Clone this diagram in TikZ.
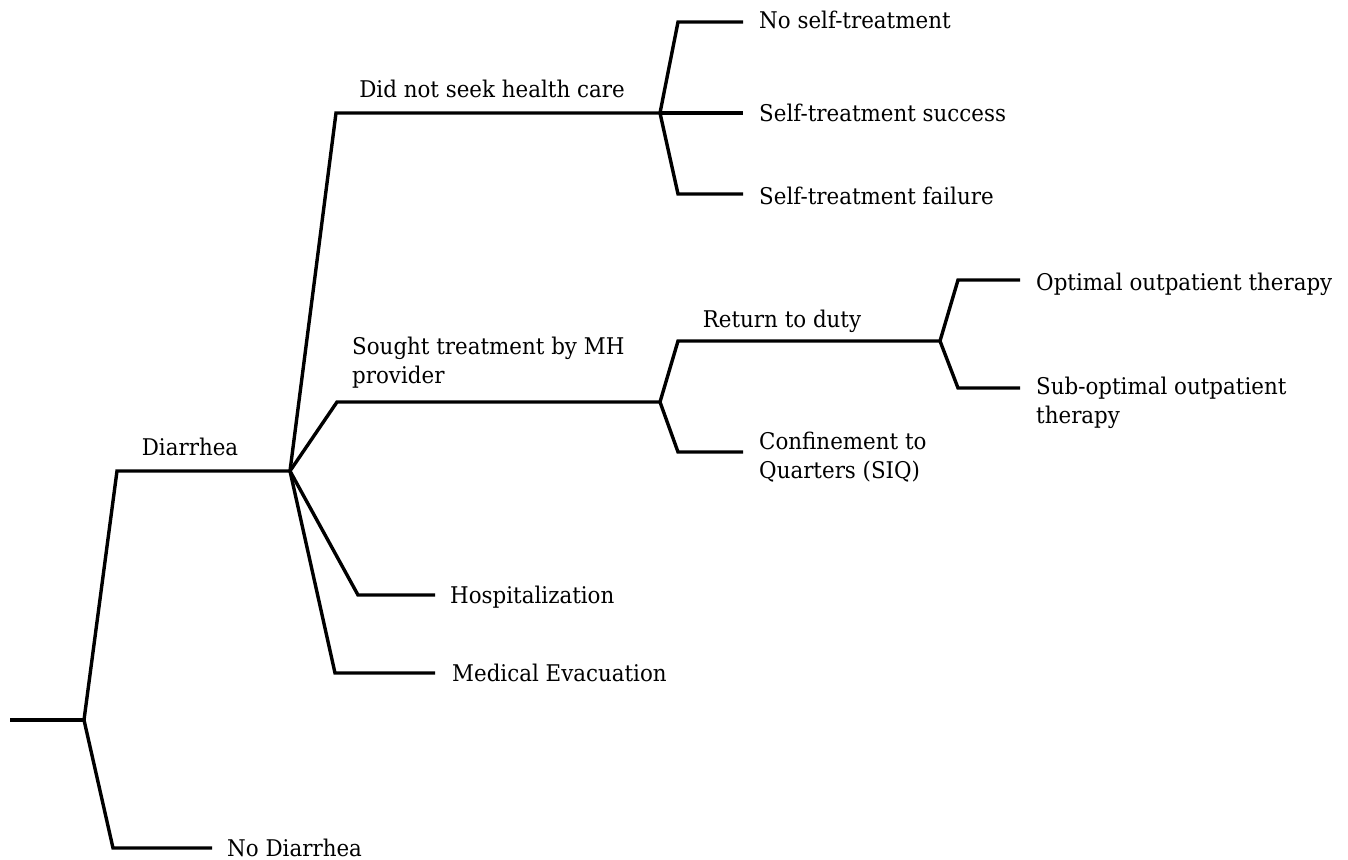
\documentclass[tikz,border=0pt]{standalone}
\usepackage{fontspec}
\setmainfont{DejaVu Serif}[FakeStretch=0.93]
\begin{document}
\begin{tikzpicture}[x=1pt,y=-1pt,
  branch/.style={line width=3.4pt},
  lbl/.style={inner sep=0pt, font=\fontsize{23}{29}\selectfont},
  leaf/.style={lbl, anchor=base west, align=left}]
\useasboundingbox[fill=white] (0,0) rectangle (1348,859);
% junctions and corners
\coordinate (r) at (10,720);
\coordinate (j0) at (84,720);
\coordinate (cD) at (117,471);
\coordinate (j1) at (290,471);
\coordinate (cND) at (113,848);
\coordinate (eND) at (212,848);
\coordinate (cN) at (336,113);
\coordinate (j2) at (660,113);
\coordinate (cS) at (337,402);
\coordinate (j3) at (660,402);
\coordinate (cH) at (358,595);
\coordinate (eH) at (435,595);
\coordinate (cM) at (335,673);
\coordinate (eM) at (435,673);
\coordinate (c1) at (678,22);
\coordinate (e1) at (743,22);
\coordinate (e2) at (743,113);
\coordinate (c3) at (678,194);
\coordinate (e3) at (743,194);
\coordinate (cR) at (678,341);
\coordinate (j4) at (940,341);
\coordinate (cC) at (678,452);
\coordinate (eC) at (743,452);
\coordinate (cO) at (958,280);
\coordinate (eO) at (1020,280);
\coordinate (cSO) at (958,388);
\coordinate (eSO) at (1020,388);
% connectors
\draw[branch] (r) -- (j0);
\draw[branch] (j0) -- (cD) -- (j1);
\draw[branch] (j0) -- (cND) -- (eND);
\draw[branch] (j1) -- (cN) -- (j2);
\draw[branch] (j1) -- (cS) -- (j3);
\draw[branch] (j1) -- (cH) -- (eH);
\draw[branch] (j1) -- (cM) -- (eM);
\draw[branch] (j2) -- (c1) -- (e1);
\draw[branch] (j2) -- (e2);
\draw[branch] (j2) -- (c3) -- (e3);
\draw[branch] (j3) -- (cR) -- (j4);
\draw[branch] (j3) -- (cC) -- (eC);
\draw[branch] (j4) -- (cO) -- (eO);
\draw[branch] (j4) -- (cSO) -- (eSO);
% branch labels
\node[lbl, anchor=base] (tD) at (190,455) {Diarrhea};
\node[lbl, anchor=base] (tN) at (492,97) {Did not seek health care};
\node[leaf] (tS) at (352,383) {Sought treatment by MH\\provider};
\node[lbl, anchor=base] (tR) at (782,327) {Return to duty};
% leaf labels
\node[leaf] (tND) at (227,856) {No Diarrhea};
\node[leaf] (tH) at (450,603) {Hospitalization};
\node[leaf] (tM) at (452,681) {Medical Evacuation};
\node[leaf] (t1) at (759,29) {No self-treatment};
\node[leaf] (t2) at (759,121) {Self-treatment success};
\node[leaf] (t3) at (759,204) {Self-treatment failure};
\node[leaf] (tC) at (759,478) {Confinement to\\Quarters (SIQ)};
\node[leaf] (tO) at (1036,290) {Optimal outpatient therapy};
\node[leaf] (tSO) at (1036,423) {Sub-optimal outpatient\\therapy};
\end{tikzpicture}
\end{document}
